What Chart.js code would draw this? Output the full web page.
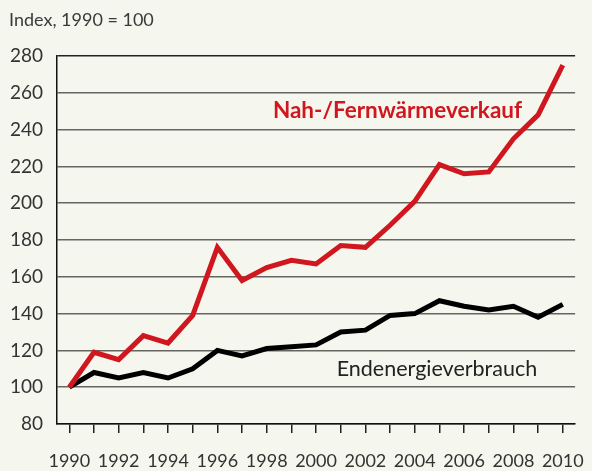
<!DOCTYPE html>
<html>
<head>
<meta charset="utf-8">
<script src="https://cdn.jsdelivr.net/npm/chart.js@4/dist/chart.umd.min.js"></script>
<style>
  html, body { margin: 0; padding: 0; background: #f5f7ee; }
  #wrap { width: 592px; height: 471px; position: relative; }
</style>
</head>
<body>
<div id="wrap"><canvas id="chart"></canvas></div>
<script>
// data
const years = ['1990','1991','1992','1993','1994','1995','1996','1997','1998','1999','2000',
  '2001','2002','2003','2004','2005','2006','2007','2008','2009','2010'];
const fernwaerme = [100, 119, 115, 128, 124, 139, 176, 158, 165, 169, 167,
  177, 176, 188, 201, 221, 216, 217, 235, 248, 275];
const endenergie = [100, 108, 105, 108, 105, 110, 120, 117, 121, 122, 123,
  130, 131, 139, 140, 147, 144, 142, 144, 138, 145];
const yTicks = [80, 100, 120, 140, 160, 180, 200, 220, 240, 260, 280];

const FONT = 'Lato, "Open Sans", sans-serif';
const RED = '#d0161e';

// title + series labels drawn as text on the canvas
const textPlugin = {
  id: 'texts',
  afterDraw(chart) {
    const { ctx, scales: { x, y } } = chart;
    ctx.save();
    ctx.textBaseline = 'middle';
    ctx.fillStyle = '#3a3a3a';
    ctx.font = '18px ' + FONT;
    ctx.textAlign = 'left';
    ctx.fillText('Index, 1990 = 100', 9, 20);

    ctx.textAlign = 'center';
    ctx.font = 'bold 22.5px ' + FONT;
    ctx.fillStyle = RED;
    ctx.fillText('Nah-/Fernwärmeverkauf', x.getPixelForValue(13.3), y.getPixelForValue(250));

    ctx.font = '21.5px ' + FONT;
    ctx.fillStyle = '#222';
    ctx.fillText('Endenergieverbrauch', x.getPixelForValue(14.9), y.getPixelForValue(110));
    ctx.restore();
  }
};

new Chart(document.getElementById('chart'), {
  type: 'line',
  plugins: [textPlugin],
  data: {
    labels: years,
    datasets: [
      {
        label: 'Nah-/Fernwärmeverkauf',
        data: fernwaerme,
        borderColor: RED,
        borderWidth: 5,
        pointRadius: 0,
        tension: 0,
        borderJoinStyle: 'miter',
      },
      {
        label: 'Endenergieverbrauch',
        data: endenergie,
        borderColor: '#000',
        borderWidth: 5,
        pointRadius: 0,
        tension: 0,
        borderJoinStyle: 'miter',
      },
    ],
  },
  options: {
    responsive: true,
    maintainAspectRatio: false,
    animation: false,
    layout: { padding: { top: 56, right: 14, bottom: 0, left: 0 } },
    plugins: { legend: false, tooltip: false },
    scales: {
      x: {
        type: 'category',
        offset: true,
        grid: {
          offset: false,
          drawOnChartArea: false,
          drawTicks: true,
          tickLength: 9,
          color: '#222',
          lineWidth: 1.5,
        },
        border: { display: true, color: '#111', width: 1.5 },
        ticks: {
          autoSkip: false,
          maxRotation: 0,
          padding: 8,
          color: '#333',
          font: { family: FONT, size: 18, lineHeight: 2.2 },
          callback: (v, i) => (i % 2 === 0 ? years[i] : ''),
        },
        afterFit: (s) => { s.height = 47; },
      },
      y: {
        min: 80,
        max: 280,
        afterBuildTicks: (s) => { s.ticks = yTicks.map((v) => ({ value: v })); },
        grid: {
          drawTicks: false,
          color: (c) => (c.tick && c.tick.value === 280 ? '#222' : '#666661'),
          lineWidth: 1.5,
        },
        border: { display: true, color: '#111', width: 1.5 },
        ticks: {
          padding: 14,
          color: '#333',
          font: { family: FONT, size: 19 },
        },
        afterFit: (s) => { s.width = 57; },
      },
    },
  },
});
</script>
</body>
</html>
